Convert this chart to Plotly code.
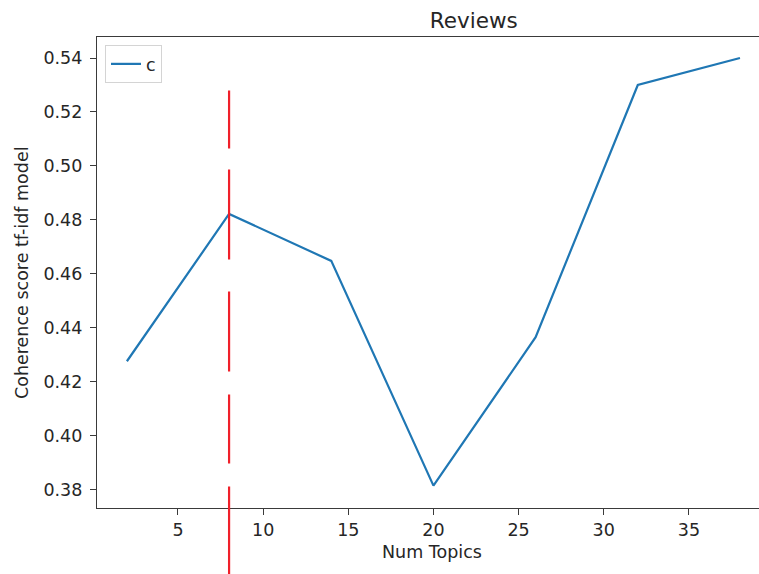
import plotly.graph_objects as go

num_topics = [2, 8, 14, 20, 26, 32, 38]
coherence = [0.4276, 0.4822, 0.4648, 0.3815, 0.4365, 0.5300, 0.5400]
series_name = "c"
best_topics = 8
vline_top = 0.528

W, H = 759, 574
L, R, T, B = 97, 0, 37, 66
PW, PH = W - L - R, H - T - B
FONT = "DejaVu Sans"
AXC = "#3a3a3a"
FS = 17.5

fig = go.Figure()
fig.add_trace(go.Scatter(
    x=num_topics, y=coherence, mode="lines", name=series_name,
    line=dict(color="#1f77b4", width=2.2),
))

ymin, ymax = 0.3732, 0.5478
xmin = 0.244
xmax = xmin + PW / 17.03
paper_top = (vline_top - ymin) / (ymax - ymin)
fig.add_shape(
    type="line", xref="x", yref="paper",
    x0=best_topics, x1=best_topics, y0=paper_top, y1=-0.3,
    line=dict(color="#f0202a", width=2.2, dash="58px,21px,90px,32px,80px,23px,69px,23px,300px"),
    layer="above",
)


def px(fx):
    return (fx - L) / PW


def py(fy):
    return (T + PH - fy) / PH


fig.add_annotation(text="Num Topics", xref="paper", yref="paper",
                   x=px(432), y=py(552), xanchor="center", yanchor="middle",
                   showarrow=False, font=dict(size=FS))
fig.add_annotation(text="Coherence score tf-idf model", xref="paper", yref="paper",
                   x=px(21.5), y=py(272.5), xanchor="center", yanchor="middle",
                   textangle=-90, showarrow=False, font=dict(size=FS))

fig.update_layout(
    width=W, height=H,
    margin=dict(l=L, r=R, t=T, b=B, autoexpand=False),
    paper_bgcolor="white", plot_bgcolor="white",
    font=dict(family=FONT, size=FS, color="#262626"),
    showlegend=True,
    legend=dict(
        x=px(105), y=py(45),
        xanchor="left", yanchor="top",
        bordercolor="#d4d4d4", borderwidth=1, bgcolor="white",
        font=dict(size=FS),
    ),
    title=dict(text="Reviews", x=432 / W, xanchor="center", xref="paper",
               y=1 - 20 / H, yanchor="middle", yref="container",
               font=dict(size=21.5, color="#262626")),
)

fig.update_xaxes(
    range=[xmin, xmax], showgrid=False, zeroline=False, automargin=False,
    showline=True, linecolor=AXC, linewidth=1.3, mirror=True,
    ticks="outside", ticklen=6, tickwidth=1.3, tickcolor=AXC,
    tickvals=[5, 10, 15, 20, 25, 30, 35],
)
fig.update_yaxes(
    range=[ymin, ymax], showgrid=False, zeroline=False, automargin=False,
    showline=True, linecolor=AXC, linewidth=1.3, mirror=False,
    ticks="outside", ticklen=6, tickwidth=1.3, tickcolor=AXC,
    tickvals=[0.38, 0.40, 0.42, 0.44, 0.46, 0.48, 0.50, 0.52, 0.54],
    tickformat=".2f", ticklabelstandoff=4,
)

fig.write_html(
    "out.html",
    config={"displayModeBar": False},
    post_script="document.body.style.margin='0';document.body.style.overflow='hidden';",
)
